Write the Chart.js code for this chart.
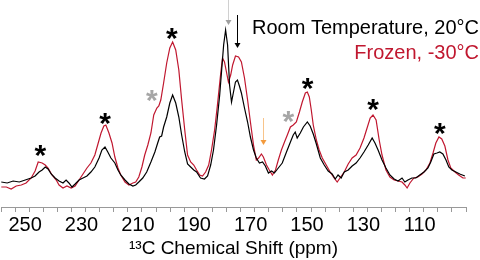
<!DOCTYPE html>
<html>
<head>
<meta charset="utf-8">
<script src="https://cdn.jsdelivr.net/npm/chart.js@4.4.0/dist/chart.umd.min.js"></script>
<style>
  body { margin: 0; background: #fff; }
  #wrap { width: 480px; height: 260px; }
</style>
</head>
<body>
<div id="wrap"><canvas id="nmrChart"></canvas></div>
<script>
// tick labels on the shift axis
const shiftTicks = [250, 230, 210, 190, 170, 150, 130, 110];

// room temperature, 20 C (black)
const roomPpm = [259.9, 257.8, 255.7, 253.5, 251.4, 249.3, 247.9, 246.5, 245.4, 244.3, 243.3, 242.2, 240.8, 239.4, 238.0, 236.9, 235.9, 234.8, 233.7, 232.3,
  230.9, 229.5, 228.1, 226.7, 225.2, 224.2, 223.1, 222.1, 221.0, 219.6, 218.5, 217.5, 216.0, 214.6, 213.2, 212.2, 211.1, 209.7, 208.3, 206.8,
  205.4, 204.4, 203.7, 203.0, 202.3, 201.2, 200.1, 199.1, 198.0, 196.9, 195.9, 194.8, 193.8, 192.7, 191.6, 190.6, 189.2, 187.8, 186.7, 185.6,
  184.6, 183.5, 182.4, 181.7, 181.0, 180.3, 179.6, 178.9, 178.2, 177.5, 176.8, 176.1, 175.4, 174.7, 173.6, 172.5, 171.5, 170.4, 169.4, 168.3,
  167.2, 166.2, 165.1, 164.0, 163.0, 161.6, 160.2, 158.7, 157.3, 156.3, 155.6, 154.9, 153.8, 152.7, 151.3, 150.3, 149.2, 148.1, 146.7, 145.3,
  143.9, 142.5, 141.4, 140.4, 139.3, 138.2, 136.8, 135.4, 134.0, 132.6, 131.2, 129.7, 128.3, 127.3, 126.2, 124.8, 123.4, 122.0, 120.5, 119.1,
  117.7, 116.7, 115.6, 114.2, 112.8, 111.4, 109.9, 108.5, 107.5, 106.4, 105.3, 104.3, 103.2, 102.1, 101.1, 100.0, 98.6, 97.2, 95.4];
const roomIntensity = [8, 7, 9, 8, 10, 12, 14, 18, 20, 23, 21, 16, 12, 9, 7, 10, 7, 3, 6, 10,
  12, 14, 18, 23, 32, 40, 43, 38, 32, 27, 20, 15, 10, 6, 4, 5, 8, 12, 18, 28,
  38, 47, 53, 54, 63, 73, 87, 95, 87, 73, 55, 38, 26, 23, 20, 18, 12, 11, 14, 25,
  40, 65, 95, 120, 145, 160, 145, 105, 88, 98, 108, 110, 104, 97, 82, 68, 53, 40, 32, 27,
  28, 24, 17, 19, 17, 22, 27, 38, 48, 55, 58, 52, 57, 63, 68, 64, 56, 46, 32, 25,
  19, 16, 11, 15, 12, 18, 20, 24, 27, 32, 38, 45, 52, 47, 40, 30, 22, 15, 11, 9,
  12, 8, 10, 12, 12, 15, 18, 22, 28, 36, 37, 38, 36, 30, 23, 20, 18, 16, 14];

// frozen, -30 C (red)
const frozenPpm = [259.9, 258.1, 256.4, 254.6, 252.8, 251.1, 249.3, 247.9, 246.8, 245.4, 244.3, 243.3, 241.9, 240.4, 239.4, 238.0, 236.6, 235.1, 233.7, 232.3,
  230.9, 229.5, 228.1, 226.7, 225.6, 224.5, 223.5, 222.8, 221.7, 220.6, 219.6, 218.5, 217.5, 216.0, 214.6, 213.2, 212.2, 211.1, 210.0, 209.0,
  207.9, 206.8, 205.8, 204.7, 204.0, 203.3, 202.3, 201.2, 200.1, 199.1, 198.0, 196.9, 195.9, 194.8, 193.8, 192.7, 191.6, 190.6, 189.5, 188.5,
  187.4, 186.3, 185.3, 184.2, 183.2, 182.1, 181.4, 180.7, 180.0, 179.3, 178.5, 177.8, 176.8, 175.7, 174.7, 173.6, 172.5, 171.5, 170.4, 169.4,
  168.6, 167.6, 166.9, 165.8, 164.8, 163.7, 162.6, 161.6, 160.5, 159.4, 158.4, 157.3, 156.3, 155.2, 154.1, 153.1, 152.0, 151.3, 150.6, 149.9,
  149.2, 148.1, 147.1, 146.0, 144.6, 143.2, 141.8, 140.7, 139.7, 138.2, 136.8, 135.4, 134.0, 132.6, 131.2, 130.1, 129.0, 128.0, 126.9, 125.8,
  124.8, 123.4, 122.0, 120.5, 119.1, 117.7, 116.7, 115.9, 114.9, 113.5, 112.1, 110.6, 109.2, 107.8, 106.7, 105.7, 104.6, 103.6, 102.5, 101.4,
  100.4, 98.9, 97.6, 96.1, 95.1];
const frozenIntensity = [3, 3, 1, 4, 5, 7, 12, 19, 28, 27, 25, 22, 15, 10, 5, 2, 4, 2, 4, 10,
  16, 22, 27, 35, 46, 57, 64, 65, 57, 47, 33, 22, 15, 8, 5, 7, 8, 13, 23, 35,
  45, 57, 75, 82, 84, 90, 107, 127, 142, 148, 140, 120, 90, 60, 35, 28, 25, 20, 15, 14,
  18, 25, 40, 60, 85, 115, 132, 128, 118, 108, 115, 125, 134, 133, 128, 112, 90, 68, 45, 30,
  32, 36, 33, 25, 20, 15, 20, 30, 40, 48, 55, 63, 65, 68, 78, 88, 97, 98, 93, 80,
  65, 50, 40, 32, 25, 18, 12, 8, 12, 18, 26, 32, 35, 42, 52, 62, 72, 75, 70, 50,
  35, 20, 13, 10, 9, 8, 5, 2, 7, 12, 13, 16, 20, 27, 37, 47, 53, 51, 44, 30,
  22, 18, 15, 12, 12];

// asterisk marks: position (ppm), height, and kind
const starPpm = [246.0, 223.1, 206.5, 199.4, 158.0, 151.2, 128.0, 104.3];
const starLevel = [40, 72, 95, 157, 74, 107, 86, 62];
const starKind = ['main', 'main', 'side', 'main', 'side', 'main', 'main', 'main'];

// arrows: position (ppm), start and tip heights
const arrowPpm = [179.6, 176.1, 166.9];
const arrowFrom = [192, 175, 72];
const arrowTo = [165, 142, 45];
const arrowKind = ['gray', 'black', 'orange'];

const FONT = 'Arial, "Liberation Sans", sans-serif';

const marks = {
    id: 'marks',
    afterDatasetsDraw(chart) {
        const ctx = chart.ctx;
        const xs = chart.scales.x;
        const ys = chart.scales.y;
        ctx.save();

        // asterisks
        ctx.font = 'bold 30px ' + FONT;
        ctx.textAlign = 'center';
        ctx.textBaseline = 'middle';
        for (let i = 0; i < starPpm.length; i++) {
            ctx.fillStyle = starKind[i] === 'main' ? '#000' : '#a6a6a6';
            ctx.fillText('*', xs.getPixelForValue(starPpm[i]), ys.getPixelForValue(starLevel[i]) + 7);
        }

        // arrows
        const shaft = {gray: '#d0d0d0', black: '#000', orange: '#f8c48a'};
        const head = {gray: '#a0a0a0', black: '#000', orange: '#f39a3c'};
        for (let i = 0; i < arrowPpm.length; i++) {
            const px = Math.round(xs.getPixelForValue(arrowPpm[i])) + 0.5;
            const y0 = ys.getPixelForValue(arrowFrom[i]);
            const y1 = ys.getPixelForValue(arrowTo[i]);
            ctx.strokeStyle = shaft[arrowKind[i]];
            ctx.lineWidth = 1;
            ctx.beginPath();
            ctx.moveTo(px, y0);
            ctx.lineTo(px, y1 - 4);
            ctx.stroke();
            ctx.fillStyle = head[arrowKind[i]];
            ctx.beginPath();
            ctx.moveTo(px - 3, y1 - 5);
            ctx.lineTo(px + 3, y1 - 5);
            ctx.lineTo(px, y1);
            ctx.closePath();
            ctx.fill();
        }

        // legend text
        ctx.font = '20px ' + FONT;
        ctx.textAlign = 'right';
        ctx.fillStyle = '#000';
        ctx.fillText('Room Temperature, 20\u00B0C', 479, 28);
        ctx.fillStyle = '#c0172f';
        ctx.fillText('Frozen, -30\u00B0C', 479, 53);
        ctx.restore();
    }
};

const roomData = roomPpm.map((p, i) => ({x: p, y: roomIntensity[i]}));
const frozenData = frozenPpm.map((p, i) => ({x: p, y: frozenIntensity[i]}));

const nmrChart = new Chart(document.getElementById('nmrChart'), {
    type: 'line',
    data: {
        datasets: [{
            label: 'Room Temperature, 20\u00B0C',
            data: roomData,
            borderColor: '#000',
            borderWidth: 1.2,
            pointRadius: 0,
            tension: 0
        }, {
            label: 'Frozen, -30\u00B0C',
            data: frozenData,
            borderColor: '#c0172f',
            borderWidth: 1.2,
            pointRadius: 0,
            tension: 0
        }]
    },
    options: {
        responsive: true,
        maintainAspectRatio: false,
        animation: false,
        layout: { padding: { left: 0, right: 14, top: 0, bottom: 0 } },
        plugins: { legend: { display: false }, tooltip: { enabled: false } },
        scales: {
            x: {
                type: 'linear',
                reverse: true,
                min: 95,
                max: 260,
                afterFit(scale) { scale.height = 53; },
                ticks: {
                    stepSize: 5,
                    autoSkip: false,
                    maxRotation: 0,
                    labelOffset: -4,
                    padding: 1,
                    color: '#000',
                    font: { family: FONT, size: 20 },
                    callback: v => shiftTicks.includes(v) ? String(v) : ''
                },
                grid: { drawOnChartArea: false, drawTicks: true, tickLength: 5, color: '#999' },
                border: { color: '#999' },
                title: {
                    display: true,
                    text: '\u00B9\u00B3C Chemical Shift (ppm)',
                    color: '#000',
                    font: { family: FONT, size: 19 },
                    padding: { top: 0, bottom: 0 }
                }
            },
            y: {
                display: false,
                min: -17,
                max: 190
            }
        }
    },
    plugins: [marks]
});
</script>
</body>
</html>
